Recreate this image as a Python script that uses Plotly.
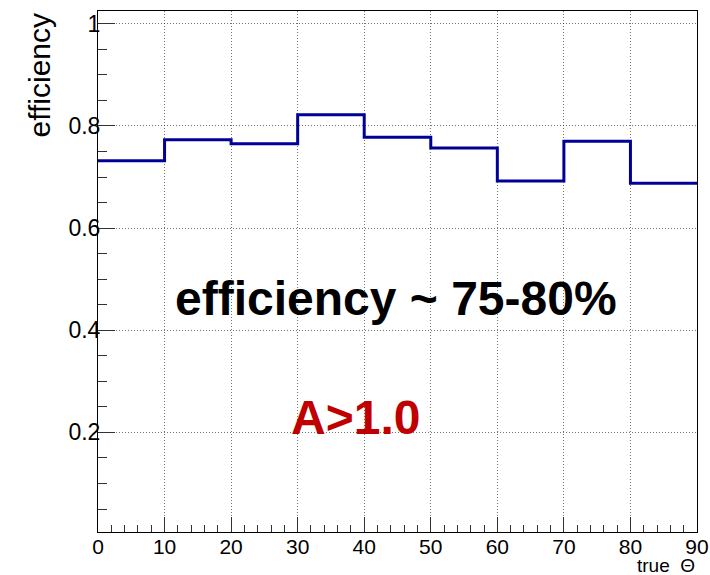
import plotly.graph_objects as go

bin_edges = [0, 10, 20, 30, 40, 50, 60, 70, 80, 90]
efficiency = [0.732, 0.773, 0.765, 0.822, 0.778, 0.757, 0.692, 0.770, 0.688]
x_ticks = [0, 10, 20, 30, 40, 50, 60, 70, 80, 90]
y_ticks = [0.2, 0.4, 0.6, 0.8, 1.0]
y_tick_labels = ["0.2", "0.4", "0.6", "0.8", "1"]

FONT = "Liberation Sans, Arial, Helvetica, sans-serif"
GRID = "rgba(0,0,0,0.55)"

fig = go.Figure()
fig.add_trace(go.Scatter(
    x=bin_edges,
    y=efficiency + [efficiency[-1]],
    mode="lines",
    line=dict(shape="hv", color="#000099", width=3),
    showlegend=False,
    hoverinfo="skip",
))

fig.update_layout(
    width=710, height=575,
    margin=dict(l=98, r=13, t=11, b=43, autoexpand=False),
    paper_bgcolor="white", plot_bgcolor="white",
    font=dict(family=FONT, color="black"),
    xaxis=dict(
        range=[0, 90], tickvals=x_ticks, ticks="inside", ticklen=15, tickwidth=1,
        tickcolor="#333", showline=True, linecolor="black", linewidth=1, mirror=True,
        showgrid=True, gridcolor=GRID, griddash="1px,2px", gridwidth=1,
        zeroline=False, tickfont=dict(size=21, family=FONT), automargin=False,
        ticklabelstandoff=-4,
        minor=dict(dtick=2, ticks="inside", ticklen=7, tickcolor="#333", showgrid=False),
    ),
    yaxis=dict(
        range=[0.005, 1.025], tickvals=y_ticks, ticktext=y_tick_labels, ticks="inside",
        ticklen=17, tickwidth=1, tickcolor="#333", showline=True, linecolor="black",
        linewidth=1, mirror=True, showgrid=True, gridcolor=GRID,
        griddash="1px,2px", gridwidth=1, zeroline=False, tickfont=dict(size=23, family=FONT),
        ticklabelstandoff=-8, automargin=False,
        minor=dict(dtick=0.05, ticks="inside", ticklen=9, tickcolor="#333", showgrid=False),
    ),
    annotations=[
        dict(text="efficiency", xref="paper", yref="paper", x=(39 - 98) / 599, y=1.0,
             xanchor="center", yanchor="top", textangle=-90, showarrow=False,
             font=dict(size=30, family=FONT, color="black")),
        dict(text="true  Θ", xref="paper", yref="paper", x=1.0, y=(532 - 565) / 521,
             xanchor="right", yanchor="middle", showarrow=False,
             font=dict(size=19, family=FONT, color="black")),
        dict(text="<b>efficiency ~ 75-80%</b>", xref="paper", yref="paper",
             x=(395.5 - 98) / 599, y=(532 - 298) / 521, xanchor="center", yanchor="middle",
             showarrow=False, font=dict(size=48, family=FONT, color="black")),
        dict(text="<b>A>1.0</b>", xref="paper", yref="paper",
             x=(355.5 - 98) / 599, y=(532 - 417) / 521, xanchor="center", yanchor="middle",
             showarrow=False, font=dict(size=48, family=FONT, color="#c00000")),
    ],
)

fig.write_html("out.html")
